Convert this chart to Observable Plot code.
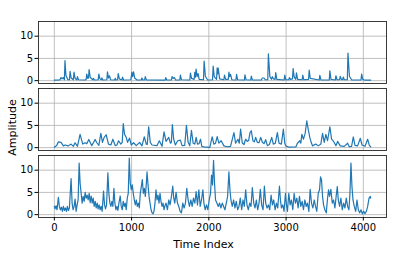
<!DOCTYPE html>
<html><head><meta charset="utf-8">
<script src="https://cdn.jsdelivr.net/npm/d3@7"></script>
<script src="https://cdn.jsdelivr.net/npm/@observablehq/plot@0.6"></script>
<style>body{margin:0;background:#fff} #chart{width:407px;height:255px}</style>
</head><body><div id="chart"></div><script>
const panels = ["top", "mid", "bot"];
const xTicks = [0, 1000, 2000, 3000, 4000];
const yTicks = [0, 5, 10];
const xLabel = "Time Index";
const yLabel = "Amplitude";

// [time index, amplitude]
const sig1 = [[0,0.1],[70,0.15],[87,0.7],[100,0.4],[117,0.7],[130,0.2],[138,4.5],[150,1.2],[175,0.2],[196,0.2],[204,2.1],[218,0.6],[245,0.2],[255,1.9],[268,0.5],[290,0.2],[299,0.9],[312,0.2],[400,0.15],[412,0.3],[420,1.5],[432,0.5],[442,0.6],[450,2.5],[465,0.7],[498,0.2],[506,0.5],[520,0.15],[568,0.2],[576,1.5],[590,0.4],[607,0.2],[615,0.6],[628,0.15],[680,0.2],[688,2.0],[700,0.6],[714,1.1],[728,0.2],[780,0.15],[788,0.5],[800,0.15],[819,0.2],[827,1.6],[842,0.4],[875,0.15],[883,0.8],[897,0.15],[990,0.2],[1004,1.9],[1014,0.9],[1026,2.0],[1040,0.6],[1070,0.15],[1126,0.15],[1134,0.6],[1148,0.15],[1169,0.15],[1177,0.9],[1192,0.15],[1434,0.1],[1442,0.7],[1456,0.15],[1516,0.15],[1524,0.9],[1538,0.5],[1554,0.7],[1570,0.15],[1624,0.15],[1632,1.25],[1646,0.2],[1754,0.15],[1762,1.7],[1776,0.5],[1810,0.3],[1818,1.85],[1826,0.8],[1835,2.6],[1848,0.9],[1861,1.6],[1875,0.3],[1931,0.2],[1939,4.4],[1955,1.0],[1985,0.15],[2048,0.2],[2056,3.3],[2070,0.9],[2100,0.3],[2108,2.9],[2114,1.5],[2121,2.8],[2140,0.4],[2195,0.2],[2203,1.25],[2218,0.3],[2252,0.3],[2260,1.9],[2270,0.9],[2281,1.4],[2298,0.2],[2351,0.15],[2359,1.4],[2373,0.2],[2460,0.15],[2468,1.3],[2482,0.2],[2542,0.15],[2550,1.0],[2564,0.15],[2680,0.15],[2693,0.6],[2714,0.6],[2730,0.2],[2763,0.2],[2771,6.0],[2790,0.9],[2810,0.3],[2822,0.9],[2836,0.4],[2858,0.3],[2866,1.8],[2880,0.3],[2975,0.15],[2983,1.25],[2997,0.2],[3035,0.2],[3043,0.7],[3058,0.3],[3083,0.4],[3091,2.7],[3105,0.8],[3126,0.3],[3134,1.75],[3150,0.3],[3208,0.2],[3216,1.25],[3230,0.2],[3291,0.3],[3299,2.35],[3313,0.5],[3429,0.15],[3437,1.2],[3451,0.15],[3559,0.15],[3567,2.2],[3581,0.3],[3637,0.15],[3645,1.1],[3659,0.2],[3693,0.2],[3701,0.95],[3715,0.3],[3732,0.2],[3740,0.8],[3754,0.2],[3793,0.2],[3801,6.2],[3820,1.0],[3850,0.15],[3970,0.15],[3978,1.5],[3992,0.3],[4020,0.1],[4095,0.1]];

const sig2 = [[0,0.1],[30,0.5],[52,1.3],[87,1.2],[117,0.4],[139,0.6],[182,0.4],[216,0.8],[247,0.3],[268,1.1],[299,0.3],[333,3.0],[368,0.8],[398,1.1],[420,0.9],[446,1.85],[485,0.45],[528,1.85],[550,1.1],[576,0.5],[602,3.2],[623,1.2],[645,2.3],[671,2.9],[701,0.8],[732,0.6],[758,1.9],[788,0.45],[810,0.6],[831,1.55],[861,0.8],[879,1.2],[892,5.4],[909,3.0],[931,2.3],[948,1.2],[974,2.15],[996,0.6],[1026,1.1],[1061,0.45],[1104,1.2],[1134,0.4],[1165,2.45],[1190,0.8],[1203,0.7],[1221,4.7],[1242,1.2],[1264,0.6],[1329,0.45],[1359,1.55],[1394,0.3],[1420,3.55],[1446,1.4],[1481,2.3],[1502,1.0],[1515,1.2],[1528,5.2],[1545,1.9],[1567,0.6],[1597,1.55],[1632,1.7],[1654,0.45],[1688,0.5],[1710,5.0],[1732,1.2],[1753,0.4],[1775,3.9],[1797,1.0],[1818,0.8],[1836,2.3],[1853,0.8],[1874,0.9],[1892,1.9],[1909,0.3],[1957,0.1],[2013,0.05],[2043,2.45],[2065,0.8],[2087,1.0],[2108,2.5],[2130,1.0],[2160,1.55],[2195,0.4],[2238,0.2],[2281,0.3],[2325,3.4],[2346,1.0],[2377,1.9],[2394,1.0],[2411,4.15],[2433,1.05],[2455,0.7],[2476,1.9],[2498,1.4],[2515,1.6],[2533,3.4],[2550,3.8],[2571,1.55],[2589,1.3],[2606,2.3],[2628,1.2],[2649,1.1],[2671,2.3],[2693,1.2],[2714,0.9],[2736,1.8],[2758,0.45],[2784,0.7],[2814,2.3],[2835,0.8],[2861,1.0],[2887,3.4],[2909,1.0],[2939,0.8],[2965,4.15],[2983,1.0],[2996,0.4],[3039,0.1],[3126,0.15],[3147,1.0],[3178,1.55],[3191,1.0],[3204,3.0],[3225,1.9],[3247,3.2],[3268,6.0],[3286,4.15],[3307,2.3],[3325,1.2],[3342,0.4],[3385,0.8],[3416,0.4],[3450,0.8],[3472,3.2],[3494,1.2],[3515,3.0],[3537,1.55],[3567,4.7],[3589,1.9],[3615,1.4],[3645,0.45],[3667,1.4],[3701,0.4],[3753,0.3],[3797,1.0],[3818,0.2],[3848,0.3],[3870,2.4],[3892,0.5],[3926,0.4],[3961,2.1],[3983,0.6],[4022,0.3],[4056,1.9],[4078,0.5],[4095,0.2]];

const sig3 = [[0,1.85],[9,1.3],[22,2.0],[35,1.1],[52,3.9],[65,1.85],[78,1.1],[91,1.7],[104,0.75],[117,1.85],[130,0.95],[143,1.5],[156,0.75],[169,1.85],[182,0.9],[195,1.5],[217,8.1],[230,2.6],[243,1.1],[256,1.85],[269,3.5],[282,0.75],[295,2.2],[308,3.3],[321,11.6],[334,7.0],[347,4.8],[360,2.6],[373,4.1],[386,3.0],[399,5.0],[412,3.7],[425,4.4],[438,3.3],[451,4.8],[464,2.7],[477,4.2],[490,2.6],[503,3.7],[516,1.85],[529,3.0],[542,1.5],[555,2.6],[567,1.3],[580,2.2],[593,1.1],[606,1.85],[619,0.75],[637,5.3],[650,2.2],[663,1.3],[676,2.2],[693,9.4],[706,4.8],[719,2.6],[732,1.85],[745,3.0],[758,1.85],[771,5.9],[784,2.6],[797,1.1],[810,1.85],[823,0.95],[836,2.6],[853,4.2],[866,1.85],[879,1.1],[892,3.0],[905,1.85],[918,2.6],[931,1.1],[944,3.7],[957,4.8],[970,12.7],[983,7.0],[996,5.6],[1009,6.7],[1022,4.8],[1035,3.3],[1048,2.2],[1061,3.3],[1074,1.85],[1087,2.6],[1100,1.5],[1113,4.8],[1126,6.3],[1139,7.9],[1152,4.8],[1165,5.9],[1178,4.1],[1191,7.0],[1200,9.6],[1213,6.7],[1226,4.1],[1239,2.6],[1252,1.1],[1265,0.4],[1278,0.2],[1290,0.75],[1303,2.6],[1316,5.6],[1329,3.3],[1342,4.4],[1355,2.6],[1368,4.8],[1381,3.0],[1394,1.85],[1407,2.6],[1420,1.1],[1429,1.85],[1446,2.6],[1464,1.1],[1481,3.3],[1498,2.2],[1516,4.1],[1533,6.4],[1546,3.7],[1559,2.6],[1576,5.0],[1594,2.6],[1611,1.85],[1628,0.75],[1645,0.4],[1663,2.6],[1680,1.5],[1697,2.6],[1715,5.9],[1732,3.3],[1749,1.85],[1767,3.3],[1784,1.85],[1801,3.7],[1819,2.6],[1836,5.2],[1853,2.2],[1871,5.6],[1888,1.85],[1905,3.3],[1923,5.6],[1936,2.6],[1953,1.1],[1970,2.2],[1987,1.1],[2005,3.3],[2022,4.8],[2035,8.9],[2048,6.7],[2061,12.2],[2074,7.0],[2087,3.3],[2104,2.6],[2122,1.85],[2139,2.6],[2156,1.5],[2174,2.6],[2191,1.85],[2208,1.1],[2226,2.6],[2243,4.1],[2260,9.6],[2273,5.6],[2286,3.3],[2303,1.85],[2321,3.3],[2338,1.5],[2355,3.0],[2373,1.1],[2390,1.85],[2407,3.7],[2425,1.1],[2442,3.3],[2459,1.85],[2477,5.6],[2494,2.2],[2511,1.1],[2529,2.6],[2546,1.85],[2563,6.1],[2581,2.6],[2598,1.5],[2615,3.3],[2632,1.1],[2650,2.6],[2667,5.7],[2684,2.2],[2702,1.1],[2719,6.4],[2736,2.6],[2754,1.5],[2771,2.2],[2788,1.1],[2806,4.4],[2823,2.2],[2840,3.3],[2858,1.1],[2875,2.6],[2892,1.5],[2914,6.4],[2927,3.3],[2940,1.5],[2957,2.2],[2974,0.75],[2992,4.8],[3005,2.2],[3018,0.75],[3035,4.8],[3052,2.2],[3069,3.3],[3087,1.1],[3104,4.8],[3121,2.6],[3139,3.7],[3156,1.5],[3173,4.1],[3191,1.85],[3208,3.0],[3225,1.1],[3243,3.3],[3260,1.85],[3277,2.6],[3295,0.75],[3312,5.7],[3329,2.6],[3347,1.5],[3364,3.3],[3381,1.85],[3398,0.75],[3416,4.8],[3433,5.6],[3446,8.5],[3459,7.8],[3472,4.1],[3485,2.2],[3502,1.1],[3520,0.4],[3537,3.7],[3550,5.6],[3563,4.1],[3580,5.7],[3598,2.6],[3615,3.3],[3632,1.5],[3650,4.4],[3663,6.3],[3676,3.3],[3693,1.85],[3710,3.7],[3727,1.1],[3745,2.6],[3762,1.5],[3779,3.7],[3797,1.85],[3814,1.1],[3827,4.8],[3840,11.6],[3853,6.3],[3866,3.3],[3883,1.85],[3901,0.75],[3918,3.3],[3935,1.1],[3953,0.4],[3970,1.1],[3987,0.2],[4005,0.75],[4022,0.2],[4039,0.75],[4056,1.85],[4074,3.7],[4091,4.1],[4095,3.7]];

const rows = [];
[sig1, sig2, sig3].forEach((s, k) => s.forEach(([t, v]) => rows.push({t, v, panel: panels[k]})));

const gridStyle = {stroke: "#b0b0b0", strokeOpacity: 1, strokeWidth: 0.8};
const chart = Plot.plot({
  width: 407, height: 255,
  marginLeft: 38, marginRight: 21, marginTop: 21, marginBottom: 37,
  style: {fontFamily: "DejaVu Sans", fontSize: "10px", color: "#000", background: "#fff"},
  x: {domain: [-205, 4300]},
  y: {domain: [-0.64, 13.3]},
  fy: {domain: panels, paddingInner: 0.07, paddingOuter: 0, axis: null},
  marks: [
    Plot.gridX(xTicks, gridStyle),
    Plot.gridY(yTicks, gridStyle),
    Plot.line(rows, {x: "t", y: "v", fy: "panel", stroke: "#1f77b4", strokeWidth: 1.2}),
    Plot.frame({stroke: "#262626", strokeWidth: 0.9}),
    Plot.axisY(yTicks, {tickSize: 3.5, tickPadding: 2, fontSize: 10, label: null, stroke: "#000", tickFormat: d => String(d)}),
    Plot.axisX(xTicks, {tickSize: 3.5, tickPadding: 2.5, fontSize: 10, label: null, stroke: "#000", tickFormat: d => String(d)})
  ]
});
const svg = d3.select(chart);
svg.append("text").attr("x", 203.5).attr("y", 245).attr("text-anchor", "middle")
  .attr("dominant-baseline", "middle").attr("fill", "#000").style("font-size", "11px").text(xLabel);
svg.append("text").attr("transform", "translate(12.5,127.5) rotate(-90)").attr("text-anchor", "middle")
  .attr("dominant-baseline", "middle").attr("fill", "#000").style("font-size", "11px").text(yLabel);
document.getElementById("chart").appendChild(chart);
</script></body></html>
